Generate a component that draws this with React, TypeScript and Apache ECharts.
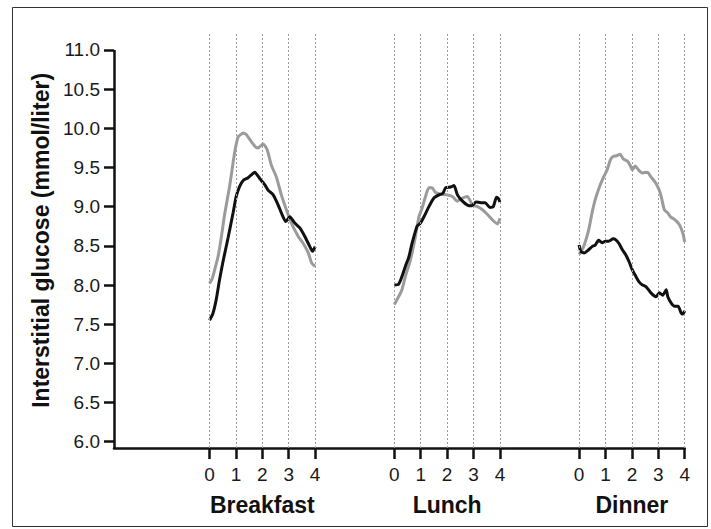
import React, { useEffect, useRef } from "react";
import * as echarts from "echarts";

// hours after meal, glucose (mmol/l)
const breakfastGray: [number, number][] = [[0,8.02],[0.1,8.08],[0.19,8.19],[0.32,8.36],[0.45,8.62],[0.57,8.9],[0.76,9.26],[0.95,9.69],[1.08,9.89],[1.18,9.92],[1.27,9.94],[1.39,9.92],[1.58,9.83],[1.75,9.76],[1.84,9.75],[2.03,9.8],[2.18,9.73],[2.34,9.53],[2.53,9.38],[2.72,9.15],[2.91,8.96],[3.1,8.79],[3.36,8.62],[3.55,8.53],[3.74,8.41],[3.87,8.28],[4.0,8.24]];
const breakfastBlack: [number, number][] = [[0,7.55],[0.13,7.64],[0.25,7.81],[0.38,8.07],[0.51,8.3],[0.7,8.6],[0.89,8.92],[1.01,9.13],[1.14,9.26],[1.29,9.34],[1.46,9.37],[1.6,9.41],[1.71,9.44],[1.9,9.36],[2.09,9.28],[2.22,9.21],[2.41,9.15],[2.6,9.02],[2.72,8.92],[2.89,8.81],[3.04,8.87],[3.23,8.79],[3.42,8.73],[3.61,8.62],[3.8,8.49],[3.9,8.43],[4.0,8.49]];
const lunchGray: [number, number][] = [[0,7.75],[0.16,7.85],[0.29,7.94],[0.42,8.11],[0.61,8.32],[0.8,8.62],[0.93,8.87],[1.05,8.98],[1.18,9.13],[1.31,9.24],[1.43,9.24],[1.56,9.18],[1.75,9.16],[2.0,9.15],[2.2,9.13],[2.39,9.07],[2.58,9.11],[2.77,9.13],[2.96,9.02],[3.15,9.0],[3.34,8.96],[3.53,8.9],[3.72,8.83],[3.91,8.78],[4.0,8.85]];
const lunchBlack: [number, number][] = [[0,8.0],[0.16,8.01],[0.29,8.11],[0.42,8.24],[0.55,8.36],[0.67,8.53],[0.86,8.75],[0.99,8.79],[1.12,8.87],[1.31,9.0],[1.5,9.11],[1.69,9.15],[1.84,9.17],[1.94,9.24],[2.13,9.25],[2.26,9.27],[2.39,9.15],[2.58,9.07],[2.77,9.02],[2.93,9.01],[3.09,9.06],[3.28,9.05],[3.44,9.05],[3.62,8.99],[3.75,9.0],[3.87,9.12],[3.95,9.1],[4.0,9.06]];
const dinnerGray: [number, number][] = [[0,8.39],[0.17,8.49],[0.36,8.7],[0.49,8.92],[0.61,9.09],[0.78,9.26],[0.93,9.38],[1.06,9.47],[1.19,9.6],[1.29,9.64],[1.42,9.65],[1.55,9.67],[1.67,9.61],[1.83,9.58],[1.93,9.53],[2.02,9.47],[2.12,9.52],[2.27,9.46],[2.4,9.43],[2.59,9.44],[2.72,9.38],[2.91,9.3],[3.08,9.17],[3.23,8.96],[3.36,8.92],[3.46,8.87],[3.6,8.84],[3.8,8.77],[3.93,8.66],[4.0,8.55]];
const dinnerBlack: [number, number][] = [[0,8.51],[0.06,8.43],[0.19,8.41],[0.36,8.45],[0.49,8.49],[0.61,8.51],[0.74,8.57],[0.87,8.54],[1.0,8.56],[1.12,8.56],[1.29,8.59],[1.38,8.58],[1.51,8.53],[1.64,8.45],[1.76,8.39],[1.89,8.3],[2.02,8.19],[2.15,8.11],[2.27,8.04],[2.4,8.0],[2.53,7.98],[2.72,7.9],[2.91,7.85],[3.04,7.9],[3.17,7.87],[3.3,7.94],[3.36,7.85],[3.49,7.77],[3.62,7.73],[3.75,7.73],[3.87,7.64],[3.93,7.63],[4.0,7.67]];

const meals = ["Breakfast", "Lunch", "Dinner"];
const mealOffsets = [0, 7, 14];
const hourTicks = [0, 1, 2, 3, 4];
const yTicks = [6.0, 6.5, 7.0, 7.5, 8.0, 8.5, 9.0, 9.5, 10.0, 10.5, 11.0];
const yAxisTitle = "Interstitial glucose (mmol/liter)";

const X_MIN = -3.62;
const X_MAX = 18;
const Y_MIN = 5.92;
const Y_MAX = 11.22;
const FONT = "'Liberation Sans', Arial, Helvetica, sans-serif";

export default function App() {
  const ref = useRef<HTMLDivElement>(null);
  useEffect(() => {
    if (!ref.current) return;
    const chart = echarts.init(ref.current, undefined, { renderer: "svg" });
    const tickValues: number[] = [];
    mealOffsets.forEach((o) => hourTicks.forEach((h) => tickValues.push(o + h)));
    const mealCenters = mealOffsets.map((o) => o + 2);
    const shift = (d: [number, number][], o: number) => d.map(([h, v]) => [h + o, v]);
    const grays = [breakfastGray, lunchGray, dinnerGray];
    const blacks = [breakfastBlack, lunchBlack, dinnerBlack];
    const lineSeries: any[] = [];
    grays.forEach((d, i) =>
      lineSeries.push({
        type: "line", name: meals[i] + " gray", data: shift(d, mealOffsets[i]),
        showSymbol: false, smooth: 0.2, z: 3,
        lineStyle: { color: "#9b9b9b", width: 3 },
      })
    );
    blacks.forEach((d, i) =>
      lineSeries.push({
        type: "line", name: meals[i] + " black", data: shift(d, mealOffsets[i]),
        showSymbol: false, smooth: 0.2, z: 4,
        lineStyle: { color: "#111111", width: 3 },
      })
    );
    chart.setOption({
      animation: false,
      backgroundColor: "#ffffff",
      graphic: [
        {
          type: "rect", shape: { x: 12.5, y: 7.5, width: 695, height: 519 },
          style: { fill: "none", stroke: "#333", lineWidth: 1 }, z: 0, silent: true,
        },
      ],
      grid: { left: 114, right: 26.3, top: 32.7, bottom: 81 },
      xAxis: [
        {
          type: "value", min: X_MIN, max: X_MAX,
          axisLine: { show: true, onZero: false, lineStyle: { color: "#111", width: 2.5 } },
          axisTick: { show: true, customValues: tickValues, length: 11, lineStyle: { color: "#111", width: 2.5 } },
          axisLabel: {
            customValues: tickValues, margin: 17, fontSize: 19, color: "#1a1a1a", fontFamily: FONT,
            formatter: (v: number) => String(Math.round(((v % 7) + 7) % 7)),
          },
          splitLine: { show: false },
        },
        {
          type: "value", min: X_MIN, max: X_MAX, position: "bottom",
          axisLine: { show: false, onZero: false }, axisTick: { show: false }, splitLine: { show: false },
          axisLabel: {
            customValues: mealCenters, margin: 45, fontSize: 23, fontWeight: "bold", color: "#111", fontFamily: FONT,
            formatter: (v: number) => meals[mealCenters.indexOf(Math.round(v))] ?? "",
          },
        },
      ],
      yAxis: {
        type: "value", min: Y_MIN, max: Y_MAX,
        name: yAxisTitle, nameLocation: "middle", nameGap: 62, nameRotate: 90,
        nameTextStyle: { fontSize: 23, fontWeight: "bold", color: "#111", fontFamily: FONT },
        axisLine: { show: false, onZero: false },
        axisTick: { show: true, customValues: yTicks, length: 10, lineStyle: { color: "#111", width: 2.5 } },
        axisLabel: {
          customValues: yTicks, margin: 14, fontSize: 19, color: "#1a1a1a", fontFamily: FONT,
          formatter: (v: number) => v.toFixed(1),
        },
        splitLine: { show: false },
      },
      series: [
        {
          type: "line", data: [], z: 1, silent: true,
          markLine: {
            silent: true, symbol: "none", label: { show: false },
            lineStyle: { color: "#9a9a9a", width: 1, type: [2, 2] },
            data: tickValues.map((v) => ({ xAxis: v })),
          },
        },
        {
          type: "line", data: [], z: 5, silent: true,
          markLine: {
            silent: true, symbol: "none", label: { show: false },
            lineStyle: { color: "#111", width: 2.5, type: "solid" },
            data: [[{ coord: [X_MIN, yTicks[yTicks.length - 1]] }, { coord: [X_MIN, Y_MIN] }]],
          },
        },
        ...lineSeries,
      ],
    });
    return () => chart.dispose();
  }, []);
  return (
    <div
      ref={ref}
      style={{ position: "fixed", left: 0, top: 0, width: 711, height: 529, background: "#fff" }}
    />
  );
}
